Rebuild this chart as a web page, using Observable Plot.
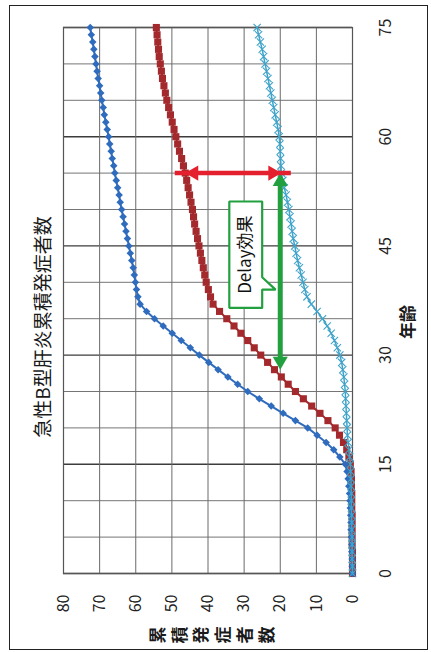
<!DOCTYPE html>
<html lang="ja">
<head>
<meta charset="utf-8">
<script src="https://cdn.jsdelivr.net/npm/d3@7"></script>
<script src="https://cdn.jsdelivr.net/npm/@observablehq/plot@0.6"></script>
<style>
  html, body { margin: 0; padding: 0; background: #fff; }
  body { width: 431px; height: 652px; overflow: hidden; position: relative;
         font-family: "Noto Sans CJK JP", "Noto Sans", sans-serif; color: #1a1a1a; }
  /* the sheet is laid out landscape, then turned a quarter turn counter-clockwise */
  #sheet { position: absolute; left: 0; top: 0; width: 652px; height: 431px;
           transform-origin: 0 0; transform: translate(0, 652px) rotate(-90deg); }
  #sheet svg { position: absolute; left: 0; top: 0; }
  .border { position: absolute; left: 2px; top: 9px; width: 645px; height: 419px;
            border: 1.5px solid #222; box-sizing: border-box; }
  .title { position: absolute; left: 175px; width: 300px; top: 32px; line-height: 20px;
           font-size: 19px; text-align: center; white-space: nowrap; }
  .xlabel { position: absolute; left: 280px; width: 100px; top: 397px; line-height: 20px;
            font-size: 17px; font-weight: bold; text-align: center; }
  .ylabel { position: absolute; left: 1px; width: 32px; top: 146px; line-height: 21.7px;
            font-size: 17px; font-weight: bold; text-align: center; }
</style>
</head>
<body>
<div id="sheet">
  <div class="border"></div>
  <div class="title">急性B型肝炎累積発症者数</div>
  <div class="xlabel">年齢</div>
  <div class="ylabel" id="ylabel"></div>
</div>
<script>
// Age (years) for every plotted point
const ages = [
  0, 1, 2, 3, 4, 5, 6, 7, 8, 9,
  10, 11, 12, 13, 14, 15, 16, 17, 18, 19,
  20, 21, 22, 23, 24, 25, 26, 27, 28, 29,
  30, 31, 32, 33, 34, 35, 36, 37, 38, 39,
  40, 41, 42, 43, 44, 45, 46, 47, 48, 49,
  50, 51, 52, 53, 54, 55, 56, 57, 58, 59,
  60, 61, 62, 63, 64, 65, 66, 67, 68, 69,
  70, 71, 72, 73, 74, 75
];

// Cumulative number of cases, blue series (diamonds)
const seriesBlue = [
  0.0, 0.1, 0.1, 0.2, 0.2, 0.3, 0.4, 0.4, 0.5, 0.6,
  0.7, 0.8, 1.0, 1.2, 1.5, 2.0, 3.5, 5.2, 7.3, 9.8,
  12.4, 15.8, 19.2, 22.5, 25.8, 29.0, 31.8, 34.5, 37.2, 39.8,
  42.4, 44.9, 47.4, 49.9, 52.4, 54.8, 57.0, 58.8, 59.4, 59.8,
  60.1, 60.4, 60.7, 61.1, 61.5, 61.9, 62.3, 62.7, 63.1, 63.5,
  63.9, 64.3, 64.6, 65.0, 65.4, 65.8, 66.1, 66.5, 66.8, 67.2,
  67.5, 67.9, 68.3, 68.7, 69.0, 69.4, 69.7, 70.0, 70.4, 70.7,
  71.0, 71.3, 71.6, 71.9, 72.3, 72.6
];

// Cumulative number of cases, dark red series (squares)
const seriesRed = [
  0.0, 0.0, 0.0, 0.0, 0.1, 0.1, 0.1, 0.1, 0.1, 0.2,
  0.2, 0.2, 0.3, 0.3, 0.4, 0.6, 1.0, 1.6, 2.5, 3.6,
  4.8, 6.8, 9.0, 11.3, 13.6, 15.8, 17.8, 19.7, 21.6, 23.5,
  25.4, 27.2, 29.0, 30.9, 32.8, 34.8, 36.8, 38.6, 39.3, 39.9,
  40.5, 40.9, 41.3, 41.7, 42.1, 42.5, 42.9, 43.3, 43.7, 44.0,
  44.3, 44.7, 45.1, 45.5, 45.9, 46.3, 46.8, 47.3, 47.9, 48.4,
  48.9, 49.4, 49.9, 50.4, 50.9, 51.4, 51.8, 52.2, 52.6, 52.9,
  53.2, 53.5, 53.7, 53.9, 54.1, 54.3
];

// Cumulative number of cases, light blue series (crosses)
const seriesLightBlue = [
  0.0, 0.0, 0.1, 0.1, 0.1, 0.1, 0.2, 0.2, 0.2, 0.3,
  0.3, 0.3, 0.4, 0.4, 0.5, 0.6, 0.8, 1.0, 1.2, 1.4,
  1.5, 1.6, 1.7, 1.8, 1.9, 2.0, 2.2, 2.4, 2.7, 3.0,
  3.5, 4.2, 5.0, 5.9, 7.0, 8.3, 9.8, 11.4, 12.6, 13.2,
  13.7, 14.2, 14.7, 15.2, 15.6, 16.0, 16.4, 16.7, 17.0, 17.3,
  17.6, 18.0, 18.4, 18.9, 19.3, 19.7, 19.8, 19.9, 20.0, 20.1,
  20.3, 20.6, 21.0, 21.4, 21.8, 22.2, 22.6, 23.0, 23.4, 23.8,
  24.2, 24.6, 25.0, 25.5, 26.0, 26.4
];

// Axis ticks
const ageTicks = [0, 15, 30, 45, 60, 75];
const ageGrid = [5, 10, 20, 25, 35, 40, 50, 55, 65, 70];
const countTicks = [0, 10, 20, 30, 40, 50, 60, 70, 80];

// Annotations: gap between red and light blue at one age, and the delay at one level
const gapAge = 55;
const delayLevel = 20;
const delayFromAge = 28;
const delayToAge = 55;
const calloutText = "Delay効果";
const calloutAges = [36.5, 51.1];
const calloutCounts = [25.0, 34.1];
const calloutTailAges = [39.0, 40.7];
const calloutTailTip = 21.3;

const colBlue = "#2f6cbd";
const colRed = "#a3292c";
const colLight = "#3fa3c9";
const colArrowRed = "#e5202e";
const colGreen = "#22a03f";

const layout = {
  width: 652,
  height: 431,
  marginLeft: 78,
  marginRight: 28,
  marginTop: 63,
  marginBottom: 79,
  x: {domain: [0, 75], label: null},
  y: {domain: [0, 80], label: null}
};

const rows = (vals) => ages.map((a, i) => ({age: a, n: vals[i]}));
const blue = rows(seriesBlue);
const red = rows(seriesRed);
const light = rows(seriesLightBlue);

const gapIndex = ages.indexOf(gapAge);
const gap = [{age: gapAge, lo: seriesLightBlue[gapIndex], hi: seriesRed[gapIndex]}];
const delay = [{n: delayLevel, from: delayFromAge, to: delayToAge}];

const [ca0, ca1] = calloutAges;
const [cn0, cn1] = calloutCounts;
const callout = [
  {age: ca0, n: cn0},
  {age: calloutTailAges[0], n: cn0},
  {age: calloutTailAges[0], n: calloutTailTip},
  {age: calloutTailAges[1], n: cn0},
  {age: ca1, n: cn0},
  {age: ca1, n: cn1},
  {age: ca0, n: cn1},
  {age: ca0, n: cn0}
];

// Arrow heads are triangle symbols; the tip lies headOff px from the symbol centre,
// so each centre is set back from its end point along the arrow, using the chart's scales.
const headR = 5.6;
const headOff = 8.66;
const probe = Plot.plot({...layout, marks: [Plot.frame()]});
const sx = probe.scale("x");
const sy = probe.scale("y");
const backX = (v, px) => sx.invert(sx.apply(v) + px);
const backY = (v, px) => sy.invert(sy.apply(v) + px);

const gapHeads = [
  {age: gapAge, n: backY(gap[0].hi, headOff), rot: 0},
  {age: gapAge, n: backY(gap[0].lo, -headOff), rot: 180}
];
const delayHeads = [
  {age: backX(delayToAge, -headOff), n: delayLevel, rot: 90},
  {age: backX(delayFromAge, headOff), n: delayLevel, rot: -90}
];

document.getElementById("ylabel").innerHTML = "累積発症者数".split("").join("<br>");

const chart = Plot.plot({
  ...layout,
  style: {
    fontFamily: "'Noto Sans CJK JP', 'Noto Sans', sans-serif",
    fontSize: "16px",
    color: "#222",
    background: "transparent",
    overflow: "visible"
  },
  marks: [
    Plot.gridX(ageGrid, {stroke: "#757575", strokeOpacity: 1, strokeWidth: 1}),
    Plot.gridX(ageTicks, {stroke: "#3c3c3c", strokeOpacity: 1, strokeWidth: 1.4}),
    Plot.gridY(countTicks, {stroke: "#6a6a6a", strokeOpacity: 1, strokeWidth: 1}),
    Plot.frame({stroke: "#555", strokeWidth: 1.2}),
    Plot.axisX(ageTicks, {tickSize: 0, tickPadding: 27, fontSize: 16, label: null}),
    Plot.axisY(countTicks, {tickSize: 0, tickPadding: 21, fontSize: 16, label: null}),

    Plot.line(red, {x: "age", y: "n", stroke: colRed, strokeWidth: 2}),
    Plot.dot(red, {x: "age", y: "n", symbol: "square", r: 4, fill: colRed, stroke: null}),

    Plot.line(blue, {x: "age", y: "n", stroke: colBlue, strokeWidth: 2}),
    Plot.dot(blue, {x: "age", y: "n", symbol: "diamond2", r: 3.4, fill: colBlue, stroke: null}),

    Plot.line(light, {x: "age", y: "n", stroke: colLight, strokeWidth: 1.5}),
    Plot.dot(light, {x: "age", y: "n", symbol: "times", r: 3.4, stroke: colLight, strokeWidth: 1.1, fill: "none"}),

    // callout box with its pointer
    Plot.line(callout, {x: "age", y: "n", stroke: colGreen, strokeWidth: 2.2, fill: "white", strokeLinejoin: "miter"}),
    Plot.text([{age: (ca0 + ca1) / 2, n: (cn0 + cn1) / 2, t: calloutText}],
      {x: "age", y: "n", text: "t", fontSize: 17, fill: "#111"}),

    // delay arrow (green, double-headed)
    Plot.ruleY(delay, {y: "n", x1: "from", x2: "to", stroke: colGreen, strokeWidth: 5, insetLeft: 10, insetRight: 10}),
    Plot.dot(delayHeads, {x: "age", y: "n", symbol: "triangle", r: headR, rotate: "rot", fill: colGreen, stroke: null}),

    // gap arrow (red, double-headed)
    Plot.ruleX(gap, {x: "age", y1: "lo", y2: "hi", stroke: colArrowRed, strokeWidth: 4.5, insetTop: 10, insetBottom: 10}),
    Plot.dot(gapHeads, {x: "age", y: "n", symbol: "triangle", r: headR, rotate: "rot", fill: colArrowRed, stroke: null})
  ]
});

document.getElementById("sheet").appendChild(chart);
</script>
</body>
</html>
